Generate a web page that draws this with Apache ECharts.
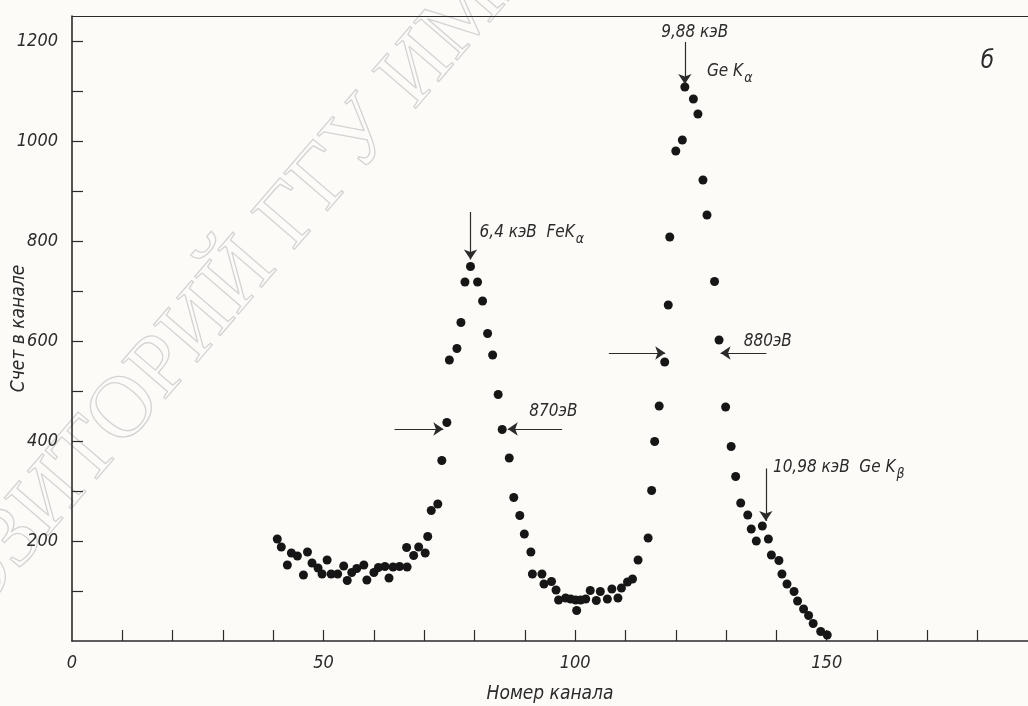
<!DOCTYPE html>
<html>
<head>
<meta charset="utf-8">
<script src="https://cdn.jsdelivr.net/npm/echarts@6.0.0/dist/echarts.min.js"></script>
<style>
  html, body { margin: 0; padding: 0; background: #fcfbf8; }
  #spectrum { width: 1028px; height: 706px; }
</style>
</head>
<body>
<div id="spectrum"></div>
<script>
// channel numbers and counts
const channels = [40.8, 41.6, 42.8, 43.6, 44.8, 46.0, 46.8, 47.7, 48.9, 49.7,
  50.7, 51.5, 52.8, 54.0, 54.7, 55.6, 56.6, 58.0, 58.6, 60.0,
  60.9, 62.2, 63.0, 63.8, 65.1, 66.5, 66.6, 67.9, 68.9, 70.2,
  70.7, 71.4, 72.7, 73.5, 74.5, 75.0, 76.5, 77.3, 78.1, 79.2,
  80.6, 81.6, 82.6, 83.6, 84.7, 85.5, 86.9, 87.8, 89.0, 89.9,
  91.2, 91.5, 93.4, 93.8, 95.3, 96.2, 96.7, 98.1, 99.1, 100.1,
  100.3, 101.1, 102.1, 103.0, 104.2, 105.0, 106.4, 107.3, 108.5, 109.2,
  110.4, 111.4, 112.5, 114.5, 115.2, 115.8, 116.7, 117.8, 118.5, 118.8,
  120.0, 121.3, 121.8, 123.5, 124.4, 125.4, 126.2, 127.7, 128.6, 129.9,
  131.0, 131.9, 132.9, 134.3, 135.0, 136.0, 137.2, 138.4, 139.0, 140.5,
  141.1, 142.1, 143.5, 144.2, 145.4, 146.4, 147.3, 148.8, 150.1];
const counts = [204, 188, 152, 176, 170, 132, 178, 156, 146, 134,
  162, 134, 134, 150, 121, 137, 145, 152, 122, 137,
  147, 149, 126, 148, 149, 187, 148, 171, 188, 176,
  209, 261, 274, 361, 437, 562, 585, 637, 718, 749,
  718, 680, 615, 572, 493, 423, 366, 287, 251, 214,
  178, 134, 134, 114, 119, 102, 82, 86, 84, 82,
  61, 82, 84, 101, 81, 99, 84, 104, 86, 106,
  118, 124, 162, 206, 301, 399, 470, 558, 672, 808,
  980, 1002, 1108, 1084, 1054, 922, 852, 719, 602, 468,
  389, 329, 276, 252, 224, 200, 230, 204, 172, 161,
  134, 114, 99, 80, 64, 51, 35, 19, 12];

const xTicks = [10, 20, 30, 40, 50, 60, 70, 80, 90, 100, 110, 120, 130, 140, 150, 160, 170, 180];
const xLabels = [0, 50, 100, 150];
const yTicks = [100, 200, 300, 400, 500, 600, 700, 800, 900, 1000, 1100, 1200];
const yLabels = [200, 400, 600, 800, 1000, 1200];

// arrows [x1, y1, x2, y2] in data units
const arrowLines = [
  [79.2, 858, 79.2, 763],     // FeKa
  [121.8, 1198, 121.8, 1114], // GeKa
  [137.9, 345, 137.9, 240],   // GeKb
  [64.1, 424, 73.8, 424],     // 870 eV left
  [97.4, 424, 86.6, 424],     // 870 eV right
  [106.7, 576, 117.9, 576],   // 880 eV left
  [138.0, 576, 128.9, 576]    // 880 eV right
];

const ink = '#2b2b2b';
const fontFam = '"DejaVu Sans Condensed", "Liberation Sans Narrow", sans-serif';

var chartDom = document.getElementById('spectrum');
var myChart = echarts.init(chartDom, null, { renderer: 'canvas' });

var points = channels.map(function (c, i) { return [c, counts[i]]; });

var option = {
  animation: false,
  backgroundColor: '#fcfbf8',
  grid: { left: 72, right: 0, top: 16, bottom: 65, containLabel: false, outerBoundsMode: 'none' },
  xAxis: [{
    type: 'value',
    min: 0,
    max: 190,
    name: 'Номер канала',
    nameLocation: 'middle',
    nameGap: 44,
    nameMoveOverlap: false,
    nameTextStyle: { fontSize: 19, fontStyle: 'italic', color: ink, fontFamily: fontFam },
    axisLine: { lineStyle: { color: ink, width: 1.6 } },
    axisTick: { show: true, inside: true, length: 11, customValues: xTicks, lineStyle: { color: ink, width: 1.2 } },
    axisLabel: {
      customValues: xLabels, margin: 13, fontSize: 18, fontStyle: 'italic', color: ink, fontFamily: fontFam,
      formatter: function (v) { return String(v); }
    },
    splitLine: { show: false }
  }, {
    type: 'value',
    position: 'top',
    min: 0,
    max: 190,
    axisLine: { show: true, onZero: false, lineStyle: { color: ink, width: 1.2 } },
    axisTick: { show: false },
    axisLabel: { show: false },
    splitLine: { show: false }
  }],
  yAxis: {
    type: 'value',
    min: 0,
    max: 1250,
    name: 'Счет в канале',
    nameLocation: 'middle',
    nameGap: 43,
    nameMoveOverlap: false,
    nameTextStyle: { fontSize: 19, fontStyle: 'italic', color: ink, fontFamily: fontFam },
    axisLine: { show: true, lineStyle: { color: ink, width: 1.6 } },
    axisTick: { show: true, inside: true, length: 11, customValues: yTicks, lineStyle: { color: ink, width: 1.2 } },
    axisLabel: {
      customValues: yLabels, margin: 14, fontSize: 18, fontStyle: 'italic', color: ink, fontFamily: fontFam,
      formatter: function (v) { return String(v); }
    },
    splitLine: { show: false }
  },
  series: [{
    type: 'scatter',
    xAxisIndex: 0,
    data: points,
    symbol: 'circle',
    symbolSize: 9,
    itemStyle: { color: '#161616', opacity: 1 },
    emphasis: { disabled: true },
    markLine: {
      silent: true,
      symbol: ['none', 'arrow'],
      symbolSize: 10,
      label: { show: false },
      lineStyle: { color: ink, width: 1.2, type: 'solid' },
      data: arrowLines.map(function (a) {
        return [{ coord: [a[0], a[1]] }, { coord: [a[2], a[3]] }];
      })
    }
  }]
};

myChart.setOption(option);

// annotation texts anchored in data units
const notes = [
  { at: [117.1, 1216], text: '{a|9,88 кэВ}' },
  { at: [126.2, 1138], text: '{a|Ge K}{s|α}' },
  { at: [81.0, 816], text: '{a|6,4 кэВ  FeK}{s|α}' },
  { at: [90.9, 458], text: '{a|870эВ}' },
  { at: [133.5, 598], text: '{a|880эВ}' },
  { at: [139.3, 346], text: '{a|10,98 кэВ  Ge K}{s|β}' },
  { at: [180.6, 1158], text: '{b|б}' }
];

var richStyle = {
  a: { fontSize: 17, fontStyle: 'italic', fontFamily: fontFam, fill: ink, lineHeight: 26 },
  s: { fontSize: 14, fontStyle: 'italic', fontFamily: fontFam, fill: ink, padding: [12, 0, 0, 1], lineHeight: 26 },
  b: { fontSize: 24, fontStyle: 'italic', fontFamily: fontFam, fill: ink }
};

var graphics = notes.map(function (n) {
  var p = myChart.convertToPixel({ seriesIndex: 0 }, n.at);
  return {
    type: 'text',
    x: p[0],
    y: p[1],
    silent: true,
    style: { text: n.text, rich: richStyle, align: 'left', verticalAlign: 'middle' }
  };
});

// faint repository watermark on the scan
graphics.unshift({
  type: 'text',
  x: -150,
  y: 730,
  rotation: 0.86,
  silent: true,
  z: -1,
  style: {
    text: 'РЕПОЗИТОРИЙ ГГУ ИМЕНИ Ф. СКОРИНЫ',
    font: '88px "Liberation Serif"',
    fill: 'rgba(0,0,0,0)',
    stroke: '#d4d4d4',
    lineWidth: 1.3,
    align: 'left',
    verticalAlign: 'middle'
  }
});

myChart.setOption({ graphic: graphics });

window.addEventListener('resize', myChart.resize);
</script>
</body>
</html>
